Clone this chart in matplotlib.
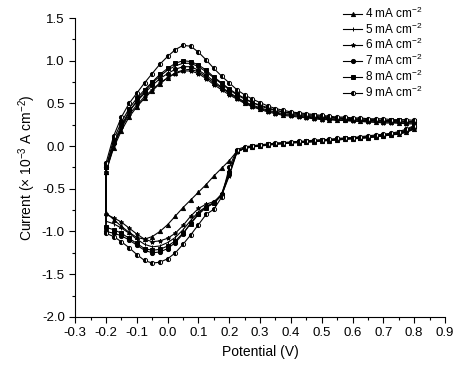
import numpy as np
import matplotlib
matplotlib.use('Agg')
import matplotlib.pyplot as plt
from matplotlib.ticker import MultipleLocator

plt.rcParams['font.family'] = ['Liberation Sans', 'DejaVu Sans']
plt.rcParams['mathtext.default'] = 'regular'

# potential grids (V): forward sweep -0.2 -> 0.8, reverse sweep 0.8 -> -0.2
x_fwd = np.round(np.arange(-0.2, 0.8001, 0.025), 3)
x_rev = x_fwd[::-1]

labels = ['4 mA cm$^{-2}$', '5 mA cm$^{-2}$', '6 mA cm$^{-2}$',
          '7 mA cm$^{-2}$', '8 mA cm$^{-2}$', '9 mA cm$^{-2}$']

# current (x 10^-3 A cm^-2)
fwd_4 = [-0.30, -0.02, 0.18, 0.34, 0.46, 0.56, 0.65, 0.73, 0.80, 0.86, 0.89, 0.90, 0.87, 0.81,
         0.74, 0.68, 0.62, 0.56, 0.51, 0.47, 0.44, 0.41, 0.39, 0.37, 0.36, 0.35, 0.34, 0.33,
         0.32, 0.31, 0.31, 0.30, 0.30, 0.29, 0.29, 0.28, 0.28, 0.28, 0.27, 0.27, 0.27]
rev_4 = [0.20, 0.16, 0.14, 0.13, 0.12, 0.11, 0.10, 0.09, 0.085, 0.08, 0.07, 0.065, 0.06, 0.05,
         0.045, 0.04, 0.035, 0.03, 0.02, 0.01, 0.0, -0.01, -0.03, -0.06, -0.17, -0.26, -0.35,
         -0.45, -0.54, -0.63, -0.72, -0.82, -0.92, -1.00, -1.06, -1.09, -1.07, -1.01, -0.94,
         -0.86, -0.78]

fwd_5 = [-0.30, 0.00, 0.22, 0.40, 0.53, 0.64, 0.74, 0.82, 0.89, 0.94, 0.97, 0.97, 0.93, 0.87,
         0.80, 0.73, 0.66, 0.60, 0.55, 0.51, 0.47, 0.44, 0.42, 0.40, 0.38, 0.37, 0.36, 0.35,
         0.34, 0.33, 0.33, 0.32, 0.31, 0.31, 0.30, 0.30, 0.30, 0.29, 0.29, 0.29, 0.28]
rev_5 = [0.21, 0.17, 0.15, 0.13, 0.12, 0.11, 0.10, 0.095, 0.09, 0.08, 0.075, 0.07, 0.06, 0.055,
         0.05, 0.045, 0.04, 0.03, 0.025, 0.015, 0.005, -0.005, -0.025, -0.07, -0.33, -0.58,
         -0.67, -0.71, -0.77, -0.87, -0.98, -1.07, -1.13, -1.17, -1.18, -1.15, -1.09, -1.02,
         -0.96, -0.91, -0.88]

fwd_6 = [-0.30, 0.02, 0.21, 0.37, 0.48, 0.58, 0.66, 0.74, 0.80, 0.85, 0.88, 0.88, 0.85, 0.79,
         0.72, 0.66, 0.60, 0.55, 0.50, 0.46, 0.43, 0.40, 0.38, 0.36, 0.35, 0.34, 0.33, 0.32,
         0.31, 0.31, 0.30, 0.30, 0.29, 0.29, 0.28, 0.28, 0.27, 0.27, 0.27, 0.26, 0.26]
rev_6 = [0.20, 0.17, 0.15, 0.13, 0.12, 0.11, 0.10, 0.095, 0.09, 0.08, 0.075, 0.07, 0.06, 0.055,
         0.05, 0.045, 0.04, 0.03, 0.025, 0.015, 0.005, -0.005, -0.025, -0.07, -0.35, -0.58,
         -0.65, -0.68, -0.73, -0.82, -0.93, -1.02, -1.08, -1.11, -1.12, -1.09, -1.03, -0.96,
         -0.89, -0.84, -0.80]

fwd_7 = [-0.25, 0.04, 0.24, 0.41, 0.52, 0.62, 0.71, 0.79, 0.85, 0.90, 0.93, 0.93, 0.89, 0.83,
         0.76, 0.69, 0.63, 0.57, 0.52, 0.48, 0.45, 0.42, 0.40, 0.38, 0.37, 0.36, 0.35, 0.34,
         0.33, 0.32, 0.32, 0.31, 0.31, 0.30, 0.30, 0.29, 0.29, 0.29, 0.28, 0.28, 0.28]
rev_7 = [0.22, 0.18, 0.16, 0.14, 0.13, 0.12, 0.11, 0.10, 0.095, 0.09, 0.08, 0.075, 0.07, 0.06,
         0.055, 0.05, 0.04, 0.035, 0.03, 0.02, 0.01, 0.0, -0.02, -0.06, -0.30, -0.56, -0.66,
         -0.71, -0.79, -0.90, -1.03, -1.13, -1.20, -1.24, -1.25, -1.22, -1.16, -1.10, -1.05,
         -1.02, -1.00]

fwd_8 = [-0.25, 0.08, 0.28, 0.44, 0.56, 0.66, 0.75, 0.84, 0.91, 0.97, 1.00, 0.99, 0.95, 0.89,
         0.81, 0.74, 0.67, 0.61, 0.56, 0.51, 0.48, 0.45, 0.42, 0.40, 0.39, 0.38, 0.37, 0.36,
         0.35, 0.34, 0.33, 0.33, 0.32, 0.32, 0.31, 0.31, 0.30, 0.30, 0.30, 0.29, 0.29]
rev_8 = [0.23, 0.19, 0.16, 0.145, 0.13, 0.12, 0.11, 0.10, 0.095, 0.09, 0.08, 0.075, 0.07, 0.06,
         0.055, 0.05, 0.04, 0.035, 0.03, 0.02, 0.01, 0.0, -0.02, -0.06, -0.32, -0.57, -0.67,
         -0.72, -0.80, -0.91, -1.02, -1.11, -1.17, -1.21, -1.22, -1.20, -1.14, -1.08, -1.02,
         -0.98, -0.95]

fwd_9 = [-0.20, 0.12, 0.34, 0.50, 0.62, 0.74, 0.85, 0.96, 1.05, 1.13, 1.18, 1.17, 1.10, 1.01,
         0.91, 0.82, 0.74, 0.66, 0.60, 0.55, 0.51, 0.47, 0.44, 0.42, 0.40, 0.39, 0.38, 0.37,
         0.36, 0.35, 0.34, 0.34, 0.33, 0.33, 0.32, 0.32, 0.32, 0.31, 0.31, 0.31, 0.30]
rev_9 = [0.24, 0.20, 0.17, 0.15, 0.14, 0.13, 0.12, 0.11, 0.10, 0.095, 0.09, 0.08, 0.075, 0.07,
         0.06, 0.055, 0.05, 0.04, 0.035, 0.025, 0.015, 0.005, -0.01, -0.04, -0.25, -0.60,
         -0.74, -0.80, -0.92, -1.04, -1.15, -1.25, -1.32, -1.36, -1.37, -1.34, -1.27, -1.19,
         -1.12, -1.06, -1.02]

fwd_all = [fwd_4, fwd_5, fwd_6, fwd_7, fwd_8, fwd_9]
rev_all = [rev_4, rev_5, rev_6, rev_7, rev_8, rev_9]

markers = ['^', '|', '*', 'o', 's', 'o']
fills = ['full', 'full', 'full', 'full', 'full', 'left']

fig = plt.figure(figsize=(4.64, 3.68), dpi=100)
ax = fig.add_axes([0.162, 0.139, 0.797, 0.812])

for lab, f, r, m, fs in zip(labels, fwd_all, rev_all, markers, fills):
    xs = np.concatenate([x_fwd, x_rev, [x_fwd[0]]])
    ys = np.concatenate([f, r, [f[0]]])
    ax.plot(xs, ys, color='black', lw=0.8, marker=m, markersize=3,
            fillstyle=fs, markerfacecoloralt='white', markeredgewidth=0.7,
            label=lab)

ax.set_xlim(-0.3, 0.9)
ax.set_ylim(-2.0, 1.5)
ax.xaxis.set_minor_locator(MultipleLocator(0.05))
ax.yaxis.set_minor_locator(MultipleLocator(0.25))
xt = np.round(np.arange(-0.3, 0.901, 0.1), 2)
ax.set_xticks(xt)
ax.set_xticklabels([f'{v:.1f}' for v in xt])
yt = np.arange(-2.0, 1.51, 0.5)
ax.set_yticks(yt)
ax.set_yticklabels([f'{v:.1f}' for v in yt])

ax.spines['top'].set_visible(False)
ax.spines['right'].set_visible(False)
ax.tick_params(which='major', direction='out', length=4, width=0.8, labelsize=9.5)
ax.tick_params(which='minor', direction='out', length=2.5, width=0.8)

ax.set_xlabel('Potential (V)', fontsize=10)
ax.set_ylabel('Current (× 10$^{-3}$ A cm$^{-2}$)', fontsize=10)
ax.yaxis.set_label_coords(-0.10, 0.5)

ax.legend(loc='upper left', bbox_to_anchor=(0.74, 0.985), bbox_transform=fig.transFigure,
          frameon=False, fontsize=8.5, handlelength=1.6, handletextpad=0.2,
          labelspacing=0.05, borderaxespad=0, borderpad=0)

fig.savefig('out.png', dpi=100)
